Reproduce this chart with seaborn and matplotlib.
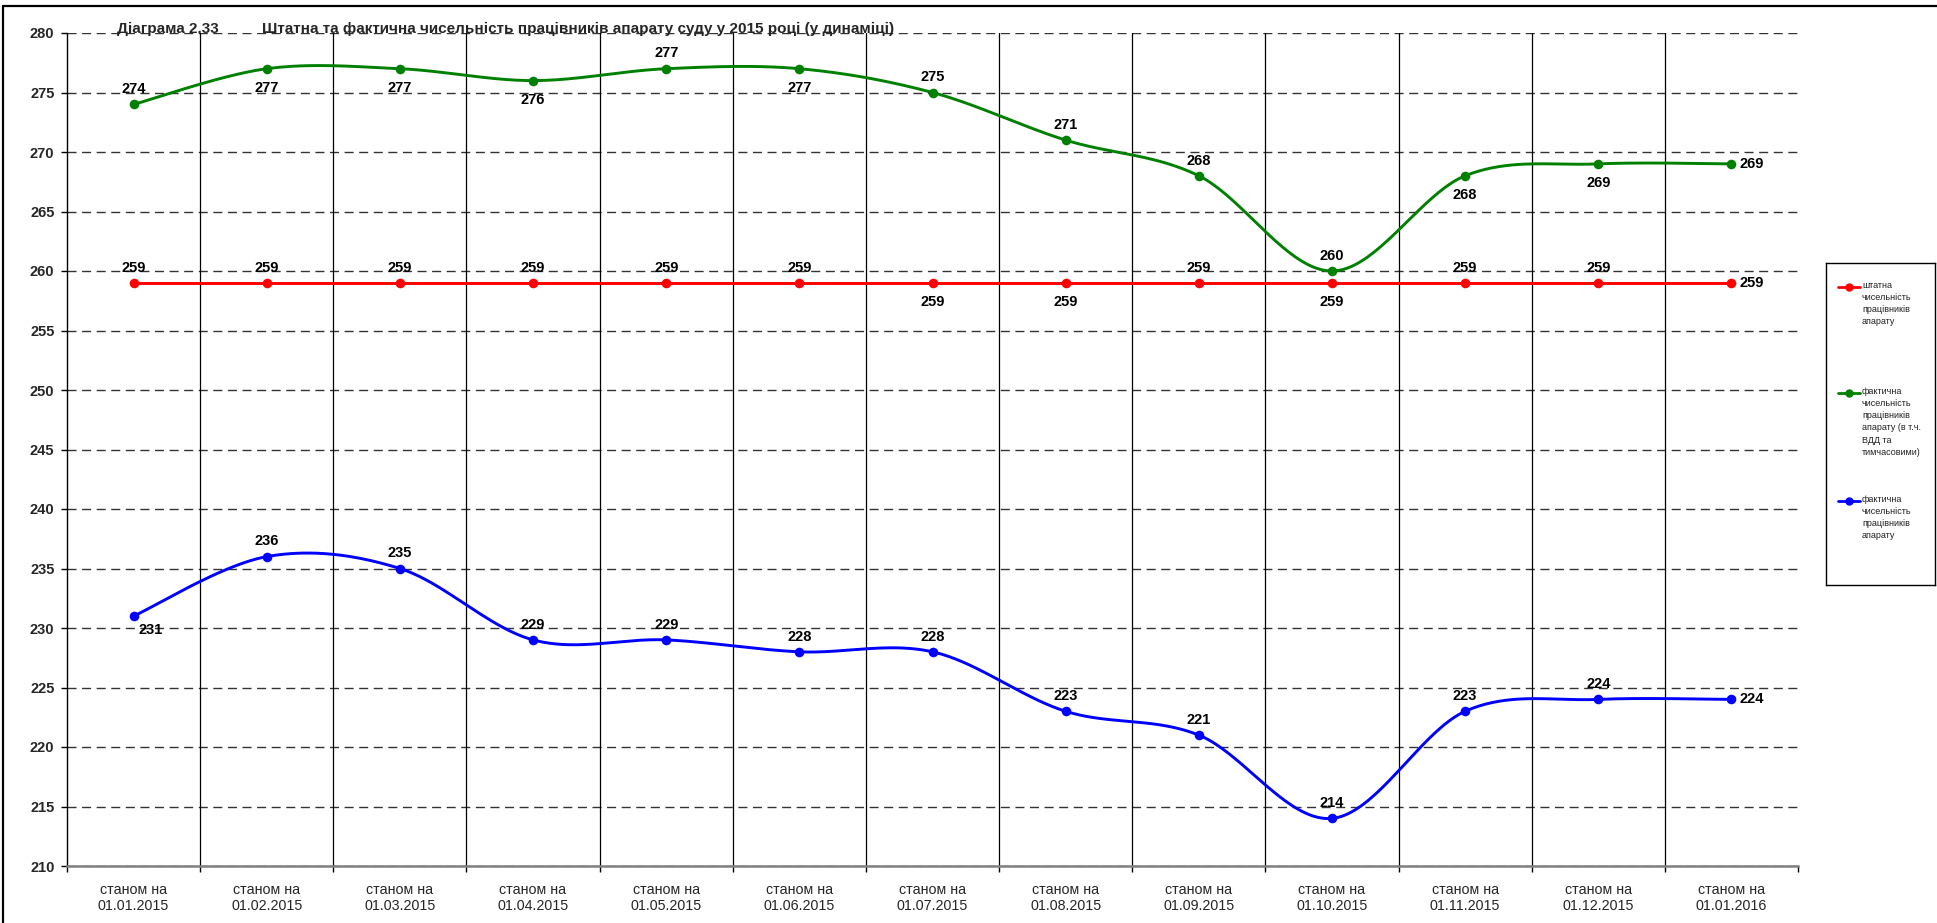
import numpy as np
import pandas as pd
import matplotlib
matplotlib.use("Agg")
import matplotlib.pyplot as plt
import seaborn as sns
from matplotlib.lines import Line2D

# ---------------- data ----------------
dates = ["01.01.2015", "01.02.2015", "01.03.2015", "01.04.2015", "01.05.2015",
         "01.06.2015", "01.07.2015", "01.08.2015", "01.09.2015", "01.10.2015",
         "01.11.2015", "01.12.2015", "01.01.2016"]
categories = ["станом на\n" + d for d in dates]

staff = [259, 259, 259, 259, 259, 259, 259, 259, 259, 259, 259, 259, 259]
actual_total = [274, 277, 277, 276, 277, 277, 275, 271, 268, 260, 268, 269, 269]
actual = [231, 236, 235, 229, 229, 228, 228, 223, 221, 214, 223, 224, 224]

series_names = ["штатна\nчисельність\nпрацівників\nапарату",
                "фактична\nчисельність\nпрацівників\nапарату (в т.ч.\nВДД та\nтимчасовими)",
                "фактична\nчисельність\nпрацівників\nапарату"]
series_values = [staff, actual_total, actual]
colors = ["#FF0000", "#008000", "#0000FF"]
smooth = [False, True, True]

# label placement (a=above, b=below, r=right, br=below-right)
label_pos = [
    ["a", "a", "a", "a", "a", "a", "b", "b", "a", "b", "a", "a", "r"],
    ["a", "b", "b", "b", "a", "b", "a", "a", "a", "a", "b", "b", "r"],
    ["br", "a", "a", "a", "a", "a", "a", "a", "a", "a", "a", "a", "r"],
]

title_num = "Діаграма 2.33"
title_txt = "Штатна та фактична чисельність працівників апарату суду у 2015 році (у динаміці)"

# ---------------- helpers ----------------
def catmull_rom(xs, ys, n=40):
    xs = np.asarray(xs, float)
    ys = np.asarray(ys, float)
    P = np.column_stack([xs, ys])
    P = np.vstack([P[0], P, P[-1]])
    out = []
    t = np.linspace(0, 1, n, endpoint=False)[:, None]
    for i in range(1, len(P) - 2):
        p0, p1, p2, p3 = P[i - 1], P[i], P[i + 1], P[i + 2]
        c1 = p1 + (p2 - p0) / 6.0
        c2 = p2 - (p3 - p1) / 6.0
        seg = ((1 - t) ** 3) * p1 + 3 * ((1 - t) ** 2) * t * c1 + 3 * (1 - t) * t ** 2 * c2 + t ** 3 * p2
        out.append(seg)
    out.append(P[-2][None, :])
    arr = np.vstack(out)
    return arr[:, 0], arr[:, 1]

# ---------------- figure ----------------
sns.set_theme(style="white")
plt.rcParams["font.family"] = ["Liberation Sans", "DejaVu Sans"]

W, H = 1937, 923
fig = plt.figure(figsize=(W / 100, H / 100), dpi=100)
L, R, T, B = 67, 1798, 33, 866
ax = fig.add_axes([L / W, 1 - B / H, (R - L) / W, (B - T) / H])

x = np.arange(len(categories))
for vals, col, sm, name in zip(series_values, colors, smooth, series_names):
    if sm:
        cx, cy = catmull_rom(x, vals)
    else:
        cx, cy = x.astype(float), np.asarray(vals, float)
    dfc = pd.DataFrame({"x": cx, "y": cy})
    sns.lineplot(data=dfc, x="x", y="y", sort=False, color=col, lw=2.1, ax=ax,
                 estimator=None, zorder=4)
    dfp = pd.DataFrame({"x": x, "y": vals})
    sns.scatterplot(data=dfp, x="x", y="y", color=col, s=48, linewidth=0, ax=ax, zorder=5)

offsets = {"a": ((0, 11), "center", "center"),
           "b": ((0, -14), "center", "center"),
           "r": ((6, 0), "left", "center"),
           "br": ((12, -10), "center", "center")}
for vals, pos in zip(series_values, label_pos):
    for xi, v, p in zip(x, vals, pos):
        off, ha, va = offsets[p]
        ax.annotate(str(v), (xi, v), xytext=off, textcoords="offset points",
                    ha=ha, va=va, fontsize=10.5, fontweight="bold", color="black", zorder=6)

ax.set_xlim(-0.5, len(categories) - 0.5)
ax.set_ylim(210, 280)
ax.set_yticks(np.arange(210, 281, 5))
ax.set_xticks(x)
ax.set_xticklabels(categories, fontsize=10.3)
ax.set_xticks(np.arange(-0.5, len(categories), 1), minor=True)
for lab in ax.get_yticklabels():
    lab.set_fontweight("bold")
    lab.set_fontsize(10.5)
ax.tick_params(axis="y", which="major", left=True, length=4, width=1, color="black", pad=5)
ax.tick_params(axis="x", which="major", bottom=False, length=0, pad=12)
ax.tick_params(axis="x", which="minor", bottom=True, length=4, width=1, color="black")
ax.set_xlabel("")
ax.set_ylabel("")

ax.yaxis.grid(True, which="major", color="#333333", lw=1.0, linestyle=(0, (6.5, 4)))
ax.xaxis.grid(False)
for b in np.arange(0.5, len(categories) - 1, 1):
    ax.axvline(b, color="black", lw=0.9, zorder=1)

for s in ["top", "right"]:
    ax.spines[s].set_visible(False)
ax.spines["left"].set_color("black")
ax.spines["left"].set_linewidth(1.0)
ax.spines["bottom"].set_color("#808080")
ax.spines["bottom"].set_linewidth(1.8)

# title
fig.text(117 / W, 1 - 29 / H, title_num, fontsize=11, fontweight="bold", va="center", ha="left")
fig.text(262 / W, 1 - 29 / H, title_txt, fontsize=11, fontweight="bold", va="center", ha="left")

# legend panel
lx0, ly0, lx1, ly1 = 1826, 263, 1935, 585
lax = fig.add_axes([lx0 / W, 1 - ly1 / H, (lx1 - lx0) / W, (ly1 - ly0) / H])
lax.set_xlim(lx0, lx1)
lax.set_ylim(ly1, ly0)
lax.set_xticks([])
lax.set_yticks([])
for s in lax.spines.values():
    s.set_color("black")
    s.set_linewidth(1.0)
    s.set_visible(True)
lax.set_facecolor("white")
entry_y = [287, 393, 501]
for ey, col, name in zip(entry_y, colors, series_names):
    lax.add_line(Line2D([1838, 1860], [ey, ey], color=col, lw=2.0))
    lax.plot([1849], [ey], marker="o", color=col, markersize=5)
    lax.text(1862, ey - 6, name, fontsize=6.5, color="#222222", va="top", ha="left",
             linespacing=1.45)

# outer frame (top & left)
fig.add_artist(Line2D([3 / W, 1], [1 - 6 / H, 1 - 6 / H], transform=fig.transFigure,
                      color="black", lw=1.6))
fig.add_artist(Line2D([3 / W, 3 / W], [0, 1 - 6 / H], transform=fig.transFigure,
                      color="black", lw=1.6))

fig.savefig("out.png", dpi=100)
